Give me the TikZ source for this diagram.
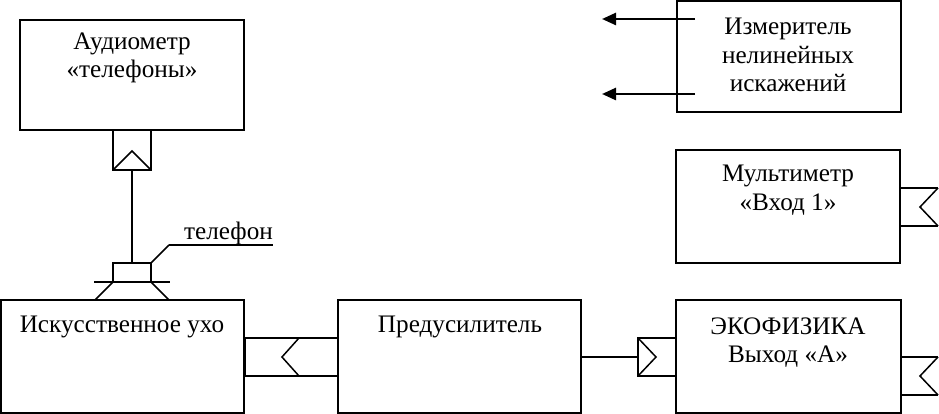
\documentclass[tikz,border=0pt]{standalone}
\usepackage{fontspec}
\setmainfont{Liberation Serif}
\usetikzlibrary{arrows.meta}
\tikzset{
  box/.style={draw, line width=2pt, rectangle, inner sep=0pt},
  lbl/.style={anchor=base, inner sep=0pt, font=\fontsize{25.2}{28}\selectfont},
  wire/.style={line width=2pt},
  thin/.style={line width=1.5pt},
  arr/.style={line width=2.5pt, -{Triangle[length=14pt,width=12pt]}}
}
\begin{document}
\begin{tikzpicture}[x=1pt,y=-1pt]
\useasboundingbox (0,0) rectangle (939,414);
% boxes
\node[box, minimum width=224pt, minimum height=110pt] (aud) at (132,75) {};
\node[box, minimum width=224pt, minimum height=111pt] (izm) at (789,56.5) {};
\node[box, minimum width=224pt, minimum height=113pt] (mult) at (788,206.5) {};
\node[box, minimum width=243pt, minimum height=113pt] (ear) at (122.5,356.5) {};
\node[box, minimum width=243pt, minimum height=113pt] (pre) at (459.5,356.5) {};
\node[box, minimum width=225pt, minimum height=113pt] (eko) at (788.5,356.5) {};
% texts
\node[lbl] (t1) at (132,50) {Аудиометр};
\node[lbl] (t2) at (132,78) {«телефоны»};
\node[lbl] (t3) at (788,35) {Измеритель};
\node[lbl] (t4) at (788,64) {нелинейных};
\node[lbl] (t5) at (788,92) {искажений};
\node[lbl] (t6) at (788,182) {Мультиметр};
\node[lbl] (t7) at (788,211) {«Вход 1»};
\node[lbl] (t8) at (122,332) {Искусственное ухо};
\node[lbl] (t9) at (460,332) {Предусилитель};
\node[lbl] (t10) at (788,334) {ЭКОФИЗИКА};
\node[lbl] (t11) at (788,362) {Выход «А»};
\node[lbl, anchor=base west] (t12) at (184,239) {телефон};
% coordinates
\coordinate (a1) at (113,130); \coordinate (a2) at (151,170);
\coordinate (a3) at (113,170); \coordinate (a4) at (132,151); \coordinate (a5) at (151,170);
\coordinate (a6) at (132,170); \coordinate (p0) at (132,263);
\coordinate (p1) at (113,263); \coordinate (p2) at (151,282);
\coordinate (p3) at (94,282); \coordinate (p4) at (170,282);
\coordinate (p5) at (113,282); \coordinate (p6) at (95,300);
\coordinate (p7) at (151,282); \coordinate (p8) at (169,300);
\coordinate (p9) at (151,263); \coordinate (p10) at (169,245); \coordinate (p11) at (273,245);
% audiometer jack and phone
\draw[wire] (a1) rectangle (a2);
\draw[thin] (a3) -- (a4) -- (a5);
\draw[wire] (a6) -- (p0);
\draw[wire] (p1) rectangle (p2);
\draw[wire] (p3) -- (p4);
\draw[thin] (p5) -- (p6);
\draw[thin] (p7) -- (p8);
\draw[thin] (p9) -- (p10);
\draw[wire] (p10) -- (p11);
% ear - preamp connector
\coordinate (e1) at (245,338); \coordinate (e2) at (338,338);
\coordinate (e3) at (245,376); \coordinate (e4) at (338,376);
\coordinate (e5) at (299,338); \coordinate (e6) at (282,357); \coordinate (e7) at (299,376);
\draw[wire] (e1) -- (e2);
\draw[wire] (e3) -- (e4);
\draw[wire] (e1) -- (e3);
\draw[thin] (e5) -- (e6) -- (e7);
% preamp - eko connector
\coordinate (f1) at (581,357); \coordinate (f2) at (638,357);
\coordinate (f3) at (638,338); \coordinate (f4) at (676,376);
\coordinate (f5) at (656,357); \coordinate (f6) at (638,376);
\draw[wire] (f1) -- (f2);
\draw[wire] (f3) rectangle (f4);
\draw[thin] (f3) -- (f5) -- (f6);
% right flags
\coordinate (m1) at (901,188); \coordinate (m2) at (938,188);
\coordinate (m3) at (920,207); \coordinate (m4) at (938,226); \coordinate (m5) at (901,226);
\draw[wire] (m1) -- (m2);
\draw[thin] (m2) -- (m3) -- (m4);
\draw[wire] (m4) -- (m5);
\coordinate (k1) at (901,357); \coordinate (k2) at (938,357);
\coordinate (k3) at (920,376); \coordinate (k4) at (938,395); \coordinate (k5) at (901,395);
\draw[wire] (k1) -- (k2);
\draw[thin] (k2) -- (k3) -- (k4);
\draw[wire] (k4) -- (k5);
% arrows
\coordinate (r1) at (695,19); \coordinate (r2) at (602,19);
\coordinate (r3) at (695,94); \coordinate (r4) at (602,94);
\draw[arr] (r1) -- (r2);
\draw[arr] (r3) -- (r4);
\end{tikzpicture}
\end{document}
